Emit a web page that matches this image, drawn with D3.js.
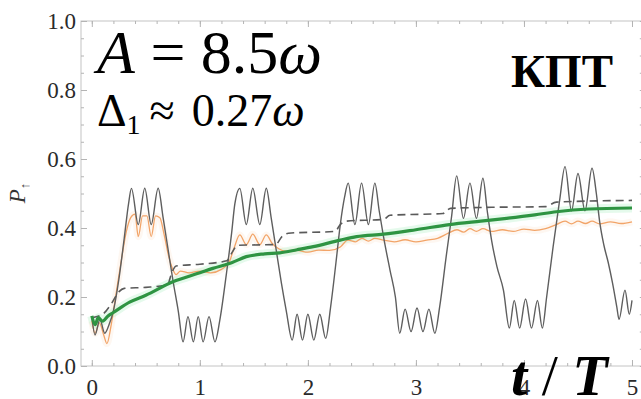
<!DOCTYPE html>
<html>
<head>
<meta charset="utf-8">
<script src="https://cdn.jsdelivr.net/npm/d3@7"></script>
<style>
  body { margin: 0; background: #fff; }
  svg { display: block; }
</style>
</head>
<body>
<div id="chart"></div>
<script>
// tick values
const tTicks = [0, 1, 2, 3, 4, 5];
const pTicks = [0, 0.2, 0.4, 0.6, 0.8, 1.0];

// thin grey oscillating curve  [t/T, P]
const greyLine = [
  [0.00,0.145],[0.03,0.09],[0.075,0.135],[0.12,0.095],[0.16,0.12],
  [0.20,0.16],[0.25,0.25],[0.30,0.37],[0.34,0.47],
  [0.367,0.515],[0.43,0.41],[0.49,0.515],[0.55,0.41],[0.614,0.515],
  [0.66,0.43],[0.71,0.33],[0.75,0.25],[0.80,0.16],
  [0.845,0.07],[0.89,0.143],[0.94,0.07],[0.985,0.143],[1.03,0.07],[1.085,0.143],[1.14,0.07],
  [1.185,0.133],[1.247,0.27],[1.294,0.385],[1.324,0.47],
  [1.37,0.515],[1.43,0.41],[1.49,0.515],[1.555,0.41],[1.615,0.515],
  [1.66,0.43],[1.71,0.33],[1.755,0.24],[1.80,0.16],
  [1.855,0.075],[1.90,0.15],[1.95,0.075],[2.00,0.15],[2.055,0.075],[2.11,0.15],[2.165,0.08],
  [2.21,0.17],[2.26,0.30],[2.30,0.41],[2.34,0.49],
  [2.373,0.53],[2.435,0.41],[2.497,0.53],[2.56,0.41],[2.62,0.53],
  [2.66,0.45],[2.70,0.375],[2.76,0.278],[2.81,0.20],
  [2.85,0.095],[2.90,0.165],[2.955,0.10],[3.01,0.168],[3.065,0.10],[3.12,0.165],[3.175,0.095],
  [3.22,0.172],[3.28,0.317],[3.33,0.433],
  [3.377,0.551],[3.44,0.428],[3.50,0.53],[3.56,0.428],[3.62,0.544],
  [3.66,0.45],[3.70,0.365],[3.75,0.288],[3.81,0.22],
  [3.865,0.11],[3.91,0.19],[3.96,0.11],[4.015,0.194],[4.07,0.11],[4.125,0.19],[4.17,0.11],
  [4.21,0.20],[4.27,0.346],[4.33,0.48],
  [4.38,0.578],[4.44,0.45],[4.50,0.558],[4.565,0.45],[4.63,0.573],
  [4.67,0.50],[4.70,0.42],[4.74,0.35],[4.78,0.30],[4.82,0.24],[4.86,0.17],
  [4.88,0.135],[4.935,0.22],[4.975,0.15],[5.00,0.19]
];

// thin orange curve
const orangeLine = [
  [0.00,0.13],[0.03,0.095],[0.07,0.125],[0.11,0.09],[0.14,0.065],[0.18,0.12],
  [0.22,0.20],[0.27,0.30],[0.32,0.39],[0.36,0.43],[0.40,0.44],[0.43,0.375],
  [0.47,0.435],[0.51,0.435],[0.55,0.375],[0.59,0.435],[0.63,0.43],[0.67,0.38],
  [0.71,0.32],[0.75,0.28],[0.78,0.265],[0.82,0.275],[0.90,0.27],[1.00,0.275],
  [1.10,0.27],[1.20,0.28],[1.27,0.30],[1.32,0.345],[1.37,0.38],[1.43,0.352],
  [1.49,0.382],[1.555,0.352],[1.615,0.38],[1.67,0.355],[1.73,0.34],[1.80,0.332],
  [1.90,0.335],[2.00,0.33],[2.10,0.336],[2.20,0.335],[2.30,0.345],[2.37,0.365],
  [2.44,0.36],[2.50,0.37],[2.56,0.362],[2.62,0.37],[2.70,0.365],[2.80,0.36],
  [2.90,0.366],[3.00,0.36],[3.10,0.365],[3.20,0.37],[3.30,0.385],[3.38,0.395],
  [3.44,0.388],[3.50,0.398],[3.56,0.39],[3.62,0.398],[3.70,0.39],[3.80,0.395],
  [3.90,0.39],[4.00,0.397],[4.10,0.393],[4.20,0.398],[4.30,0.41],[4.38,0.42],
  [4.44,0.412],[4.50,0.42],[4.57,0.413],[4.63,0.42],[4.70,0.412],[4.80,0.418],
  [4.90,0.413],[5.00,0.418]
];

// dashed dark grey curve
const dashedLine = [
  [0.00,0.14],[0.10,0.15],[0.18,0.18],[0.25,0.215],[0.30,0.225],[0.50,0.228],
  [0.70,0.235],[0.74,0.27],[0.78,0.29],[1.00,0.295],[1.25,0.305],[1.30,0.33],
  [1.35,0.35],[1.70,0.352],[1.76,0.375],[1.82,0.385],[2.25,0.39],[2.30,0.41],
  [2.36,0.42],[2.70,0.425],[2.76,0.437],[3.25,0.442],[3.32,0.457],[3.70,0.46],
  [4.20,0.462],[4.30,0.475],[5.00,0.48]
];

// thick green curve
const greenLine = [
  [0.00,0.145],[0.03,0.12],[0.06,0.14],[0.10,0.13],[0.15,0.145],[0.20,0.155],
  [0.35,0.185],[0.50,0.205],[0.75,0.244],[1.00,0.27],[1.12,0.283],[1.30,0.30],
  [1.43,0.317],[1.60,0.325],[1.74,0.328],[1.90,0.337],[2.05,0.346],[2.30,0.365],
  [2.45,0.375],[2.70,0.382],[3.00,0.395],[3.31,0.41],[3.60,0.42],[3.84,0.428],
  [4.10,0.438],[4.30,0.447],[4.60,0.455],[5.00,0.458]
];

const width = 641;
const height = 399;
const serif = 'Liberation Serif';

const x = d3.scaleLinear().domain([-0.1, 5.1]).range([81, 642.8]);
const y = d3.scaleLinear().domain([0, 1]).range([366, 21]);

const svg = d3.select('#chart').append('svg')
  .attr('width', width)
  .attr('height', height);

svg.append('rect').attr('width', width).attr('height', height).attr('fill', '#fff');

// frame
svg.append('rect')
  .attr('x', x.range()[0]).attr('y', y.range()[1])
  .attr('width', x.range()[1] - x.range()[0])
  .attr('height', y.range()[0] - y.range()[1])
  .attr('fill', 'none').attr('stroke', '#c4c4c4').attr('stroke-width', 1);

function styleTicks(g) {
  g.select('.domain').remove();
  g.selectAll('line').attr('stroke', '#b4b4b4');
}

const tMinor = d3.range(0, 5.01, 0.2);
const pMinor = d3.range(0, 1.001, 0.05);

// minor ticks on all four sides
svg.append('g').attr('transform', `translate(0,${y(0)})`)
  .call(d3.axisBottom(x).tickValues(tMinor).tickSize(-3).tickFormat('')).call(styleTicks);
svg.append('g').attr('transform', `translate(0,${y(1)})`)
  .call(d3.axisTop(x).tickValues(tMinor).tickSize(-3).tickFormat('')).call(styleTicks);
svg.append('g').attr('transform', `translate(${x(-0.1)},0)`)
  .call(d3.axisLeft(y).tickValues(pMinor).tickSize(-3).tickFormat('')).call(styleTicks);
svg.append('g').attr('transform', `translate(${x(5.1)},0)`)
  .call(d3.axisRight(y).tickValues(pMinor).tickSize(-3).tickFormat('')).call(styleTicks);

// major ticks with labels
const xAxis = svg.append('g').attr('transform', `translate(0,${y(0)})`)
  .call(d3.axisBottom(x).tickValues(tTicks).tickSize(-6).tickPadding(13).tickFormat(d3.format('d')))
  .call(styleTicks);
const yAxis = svg.append('g').attr('transform', `translate(${x(-0.1)},0)`)
  .call(d3.axisLeft(y).tickValues(pTicks).tickSize(-6).tickPadding(5).tickFormat(d3.format('.1f')))
  .call(styleTicks);
svg.append('g').attr('transform', `translate(0,${y(1)})`)
  .call(d3.axisTop(x).tickValues(tTicks).tickSize(-6).tickFormat('')).call(styleTicks);

[xAxis, yAxis].forEach(g => g.attr('font-family', serif).attr('font-size', 23)
  .selectAll('text').attr('fill', '#2a2a2a'));

// curves
const line = d3.line()
  .x(d => x(d[0]))
  .y(d => y(d[1]))
  .curve(d3.curveMonotoneX);

svg.append('path').datum(orangeLine).attr('d', line)
  .attr('fill', 'none').attr('stroke', '#f7c9a0').attr('stroke-width', 7).attr('stroke-opacity', 0.15);
svg.append('path').datum(greenLine).attr('d', line)
  .attr('fill', 'none').attr('stroke', '#a8f0c0').attr('stroke-width', 9).attr('stroke-opacity', 0.3);

svg.append('path').datum(orangeLine).attr('d', line)
  .attr('fill', 'none').attr('stroke', '#f2a468').attr('stroke-width', 1.3);
svg.append('path').datum(greyLine).attr('d', line)
  .attr('fill', 'none').attr('stroke', '#5e5e5e').attr('stroke-width', 1.4);
svg.append('path').datum(dashedLine).attr('d', line)
  .attr('fill', 'none').attr('stroke', '#5a5a5a').attr('stroke-width', 1.6)
  .attr('stroke-dasharray', '8,5');
svg.append('path').datum(greenLine).attr('d', line)
  .attr('fill', 'none').attr('stroke', '#2e9442').attr('stroke-width', 3.2);

// y axis label
const yl = svg.append('text')
  .attr('transform', 'translate(25,193) rotate(-90)')
  .attr('text-anchor', 'middle')
  .attr('font-family', serif).attr('font-size', 23).attr('fill', '#333');
yl.append('tspan').attr('font-style', 'italic').text('P');
yl.append('tspan').attr('font-size', 13).attr('dy', 4).text('↑');

// annotations
const a1 = svg.append('text').attr('x', 97).attr('y', 73)
  .attr('font-family', serif).attr('font-size', 62).attr('fill', '#000');
a1.append('tspan').attr('font-style', 'italic').text('A');
a1.append('tspan').text(' = 8.5');
a1.append('tspan').attr('font-style', 'italic').text('ω');

const a2 = svg.append('text').attr('x', 97).attr('y', 126)
  .attr('font-family', serif).attr('font-size', 46).attr('fill', '#000');
a2.append('tspan').text('Δ');
a2.append('tspan').attr('font-size', 28).attr('dy', 8).text('1');
a2.append('tspan').attr('dy', -8).attr('dx', 9).text('≈');
a2.append('tspan').attr('dx', 17).text('0.27');
a2.append('tspan').attr('font-style', 'italic').text('ω');

svg.append('text').attr('x', 511).attr('y', 87)
  .attr('font-family', serif).attr('font-size', 47).attr('font-weight', 'bold')
  .attr('fill', '#000').text('КПТ');

const xl = svg.append('text').attr('x', 511).attr('y', 395)
  .attr('font-family', serif).attr('font-size', 58).attr('font-weight', 'bold')
  .attr('font-style', 'italic').attr('fill', '#000');
xl.append('tspan').text('t');
xl.append('tspan').attr('font-weight', 'normal').attr('font-style', 'normal').text(' / ');
xl.append('tspan').text('T');
</script>
</body>
</html>
